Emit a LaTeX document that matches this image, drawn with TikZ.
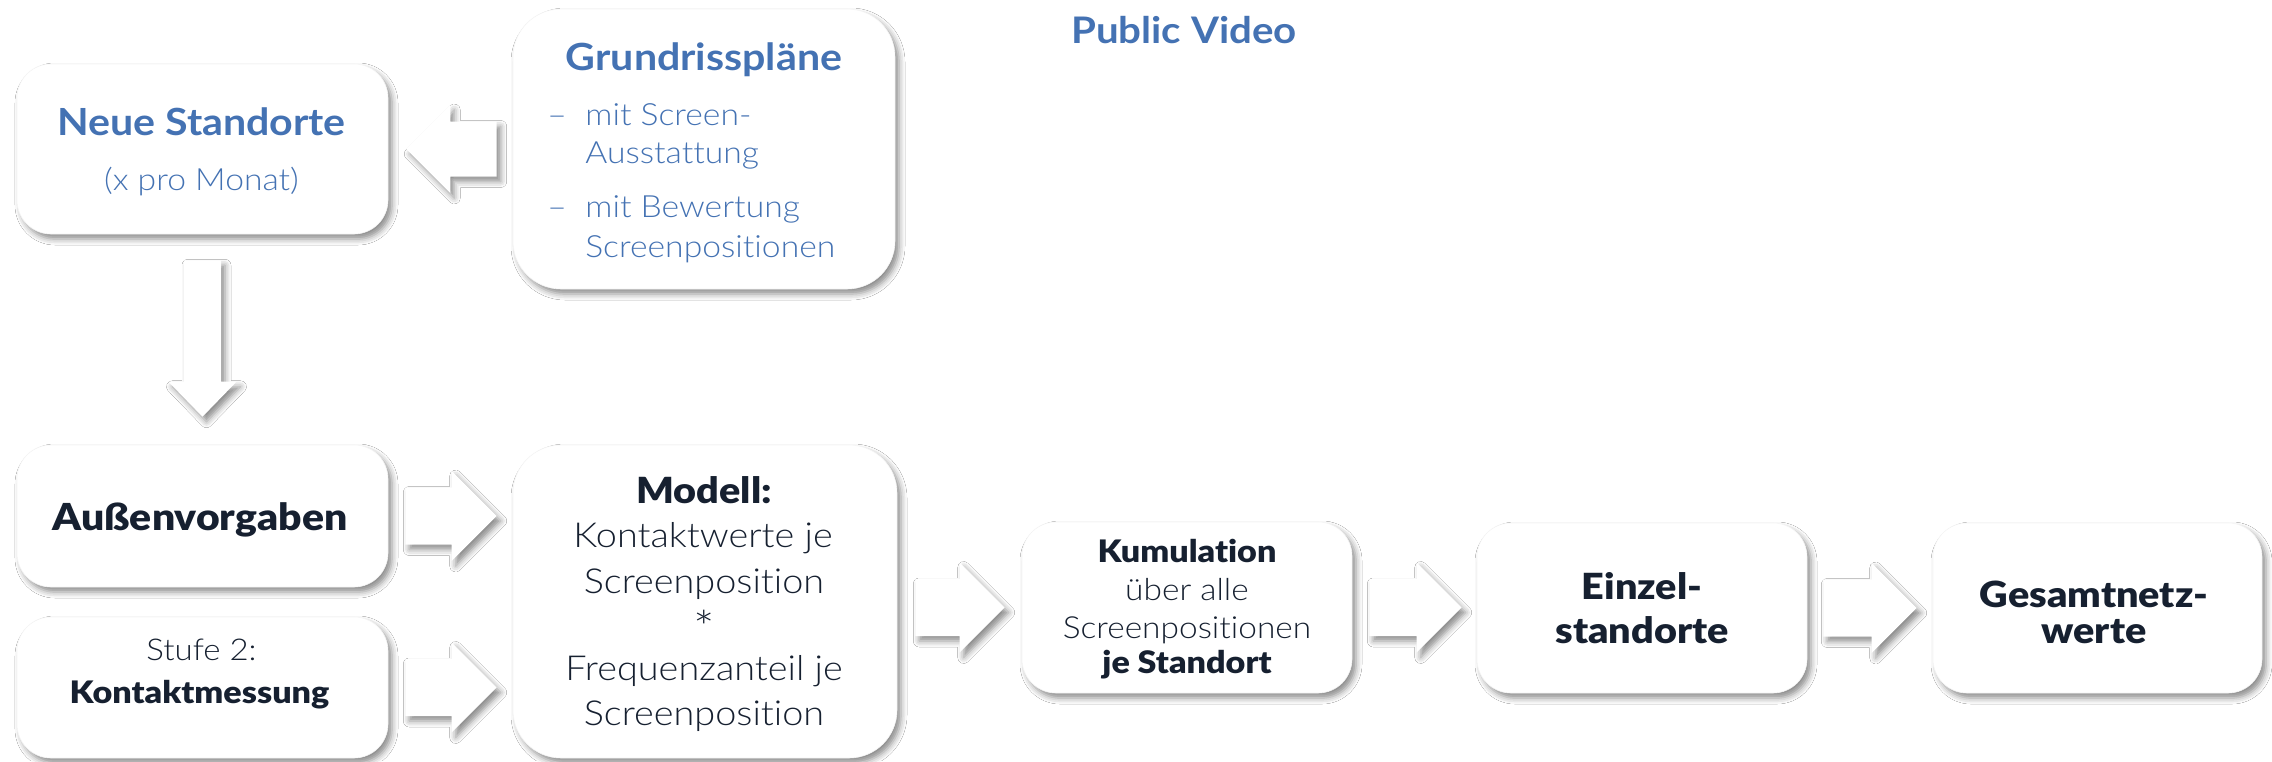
\documentclass[tikz,border=0pt]{standalone}
\usepackage{fontspec}
\setmainfont{Lato}[FakeStretch=1.1, Ligatures=NoCommon]
\newfontfamily\latolight{Lato Light}[FakeStretch=1.1, Ligatures=NoCommon]
\newfontfamily\latoheavy{Lato Black}[FakeStretch=1.1, Ligatures=NoCommon]
\usetikzlibrary{shadows.blur,calc}
\definecolor{blu}{RGB}{68,114,179}
\definecolor{ink}{RGB}{22,32,48}
\tikzset{
  shad/.style={blur shadow={shadow xshift=2pt,shadow yshift=-2.5pt,shadow blur radius=3pt,shadow opacity=45}},
  box/.style={fill=white, draw=black!4, line width=0.3pt, rounded corners=17pt, inner sep=0pt, shad},
  bigbox/.style={box, rounded corners=24pt},
  arr/.style={fill=white, shad},
  txt/.style={anchor=base, inner sep=0pt},
  bluebold/.style={txt, text=blu, font=\fontsize{18.7}{22}\selectfont\bfseries},
  bluelight/.style={txt, text=blu, font=\fontsize{15.3}{18}\selectfont\latolight},
  inkheavy/.style={txt, text=ink, font=\fontsize{18}{21}\selectfont\latoheavy},
  inklight/.style={txt, text=ink, font=\fontsize{17.2}{20}\selectfont\latolight},
}
% right-pointing block arrow: tail point, tip point, body half height, head half height
\newcommand\rblock[4]{%
  \fill[arr] let \p1=#1, \p2=#2 in
    (\x1,\y1+#3) -- (\x2-#4,\y1+#3) -- (\x2-#4,\y1+#4) -- (\x2,\y1) --
    (\x2-#4,\y1-#4) -- (\x2-#4,\y1-#3) -- (\x1,\y1-#3) -- cycle;}
% left-pointing block arrow
\newcommand\lblock[4]{%
  \fill[arr] let \p1=#1, \p2=#2 in
    (\x1,\y1+#3) -- (\x2+#4,\y1+#3) -- (\x2+#4,\y1+#4) -- (\x2,\y1) --
    (\x2+#4,\y1-#4) -- (\x2+#4,\y1-#3) -- (\x1,\y1-#3) -- cycle;}
% down-pointing block arrow: tail, tip, body half width, head half width, head length
\newcommand\dblock[5]{%
  \fill[arr] let \p1=#1, \p2=#2 in
    (\x1-#3,\y1) -- (\x1-#3,\y2+#5) -- (\x1-#4,\y2+#5) -- (\x1,\y2) --
    (\x1+#4,\y2+#5) -- (\x1+#3,\y2+#5) -- (\x1+#3,\y1) -- cycle;}
\begin{document}
\begin{tikzpicture}[x=0.5pt,y=-0.5pt]
\useasboundingbox (0,0) rectangle (2272,761);
\fill[white] (0,0) rectangle (2272,761);

% boxes
\node[box, minimum width=185.5pt, minimum height=85pt] (neu) at (202.5,149) {};
\node[bigbox, minimum width=191pt, minimum height=140pt] (grund) at (704,149) {};
\node[box, minimum width=185.5pt, minimum height=71pt] (aussen) at (202.5,516) {};
\node[box, minimum width=185.5pt, minimum height=70.5pt] (stufe) at (202.5,687.5) {};
\node[bigbox, minimum width=192pt, minimum height=156.5pt] (modell) at (705,601.5) {};
\node[box, minimum width=165pt, minimum height=85.5pt] (kumul) at (1187,607.5) {};
\node[box, minimum width=165pt, minimum height=85pt] (einzel) at (1642,608) {};
\node[box, minimum width=164.5pt, minimum height=85pt] (gesamt) at (2097.5,608) {};

% arrows
\coordinate (gn) at (grund.west |- neu.east);
\coordinate (mk) at (modell.east |- kumul.west);
\lblock{([xshift=-8pt]gn)}{([xshift=9pt]neu.east)}{13.75pt}{22pt}
\dblock{([yshift=-13pt]neu.south)}{([yshift=14pt]aussen.north)}{9.25pt}{17pt}{17.5pt}
\rblock{([xshift=8.5pt]aussen.east)}{([xshift=-8pt]modell.west)}{14.25pt}{22.5pt}
\rblock{([xshift=8.5pt]stufe.east)}{([xshift=-8pt]modell.west)}{14.25pt}{22.5pt}
\rblock{([xshift=9pt]mk)}{([xshift=-8.5pt]kumul.west)}{14.25pt}{22.5pt}
\rblock{([xshift=8.5pt]kumul.east)}{([xshift=-7.5pt]einzel.west)}{14.25pt}{22.5pt}
\rblock{([xshift=8pt]einzel.east)}{([xshift=-8pt]gesamt.west)}{14.25pt}{22.5pt}

% texts
\node[bluebold, font=\fontsize{18.3}{22}\selectfont\bfseries] (pv) at (1184,43) {Public Video};
\node[bluebold] (t1) at (201.5,135) {Neue Standorte};
\node[bluelight] (t2) at (201.5,190) {(x pro Monat)};
\node[bluebold] (g0) at (704,70) {Grundrisspläne};
\node[bluelight, anchor=base west] (d1) at (547,125) {–};
\node[bluelight, anchor=base west] (g1) at (585,125) {mit Screen-};
\node[bluelight, anchor=base west] (g2) at (585,163) {Ausstattung};
\node[bluelight, anchor=base west] (d2) at (547,217) {–};
\node[bluelight, anchor=base west] (g3) at (585,217) {mit Bewertung};
\node[bluelight, anchor=base west] (g4) at (585,257) {Screenpositionen};

\node[inkheavy, font=\fontsize{18.6}{21}\selectfont\latoheavy] (a0) at (200,530) {Außenvorgaben};
\node[inklight, font=\fontsize{15}{18}\selectfont\latolight] (s1) at (201.5,660) {Stufe 2:};
\node[inkheavy, font=\fontsize{15.5}{18}\selectfont\latoheavy] (s2) at (199.5,703) {Kontaktmessung};

\node[inkheavy] (m0) at (704,503) {Modell:};
\node[inklight] (m1) at (703,547) {Kontaktwerte je};
\node[inklight] (m2) at (704,593) {Screenposition};
\node[inklight, font=\fontsize{23}{26}\selectfont\latolight] (m3) at (704,644) {*};
\node[inklight] (m4) at (704,680) {Frequenzanteil je};
\node[inklight] (m5) at (704,725) {Screenposition};

\node[inkheavy, font=\fontsize{15.5}{18}\selectfont\latoheavy] (k0) at (1187,562) {Kumulation};
\node[inklight, font=\fontsize{15.2}{18}\selectfont\latolight] (k1) at (1187,600) {über alle};
\node[inklight, font=\fontsize{15.2}{18}\selectfont\latolight] (k2) at (1187,638) {Screenpositionen};
\node[inkheavy, font=\fontsize{15.5}{18}\selectfont\latoheavy] (k3) at (1187,673) {je Standort};

\node[inkheavy] (e1) at (1642,599) {Einzel-};
\node[inkheavy] (e2) at (1642,643) {standorte};
\node[inkheavy] (n1) at (2094,607) {Gesamtnetz-};
\node[inkheavy] (n2) at (2094,643) {werte};
\end{tikzpicture}
\end{document}
